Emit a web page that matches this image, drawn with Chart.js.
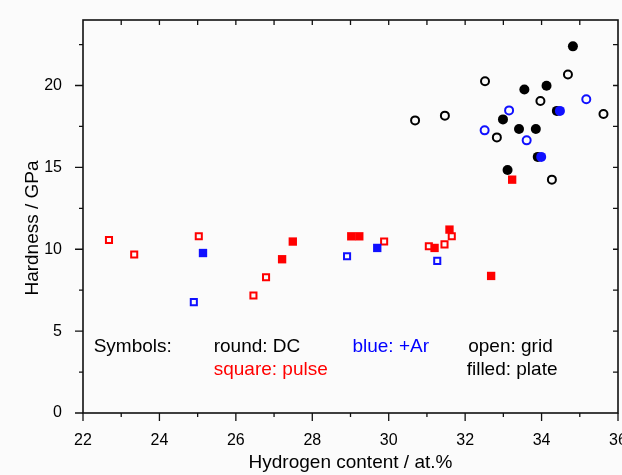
<!DOCTYPE html>
<html><head><meta charset="utf-8">
<script src="https://cdn.jsdelivr.net/npm/chart.js@4"></script>
<style>html,body{margin:0;padding:0;background:#fbfbfb;}canvas{display:block}</style>
</head><body>
<canvas id="c" width="622" height="475"></canvas>
<script>
// ---- data: [hydrogen content at.%, hardness GPa] ----
const dcGrid      = [[34.69,20.67],[32.52,20.26],[33.97,19.05],[35.62,18.26],[30.69,17.87],[31.47,18.16],[32.83,16.83],[34.27,14.25]];
const dcPlate     = [[34.82,22.39],[33.55,19.76],[34.13,19.98],[34.40,18.45],[32.99,17.93],[33.41,17.34],[33.85,17.34],[33.90,15.64],[33.11,14.84]];
const dcArGrid    = [[35.17,19.16],[33.15,18.48],[32.51,17.26],[33.61,16.65]];
const dcArPlate   = [[34.48,18.45],[33.99,15.64]];
const pulseGrid   = [[22.68,10.57],[23.34,9.68],[25.03,10.79],[26.46,7.18],[26.79,8.29],[29.88,10.47],[31.05,10.18],[31.46,10.30],[31.65,10.79]];
const pulsePlate  = [[27.21,9.39],[27.49,10.47],[29.02,10.79],[29.23,10.79],[31.20,10.08],[31.59,11.20],[32.68,8.37],[33.23,14.25]];
const pulseArGrid = [[24.90,6.77],[28.91,9.57],[31.27,9.29]];
const pulseArPlate= [[25.14,9.77],[29.70,10.08]];

const xTickLabels = [22,24,26,28,30,32,34,36];
const xMinorTicks = [23,25,27,29,31,33,35];
const yTickLabels = [0,5,10,15,20];
const yMinorTicks = [2.5,7.5,12.5,17.5,22.5];
const xTopTicks   = [23,24,25,26,27,28,29,30,31,32,33,34,35];
const yRightTicks = [2.5,5,7.5,10,12.5,15,17.5,20,22.5];

const xTitle = 'Hydrogen content / at.%';
const yTitle = 'Hardness / GPa';
// legend-like annotations: [text, x, y, colour]
const notes = [
  ['Symbols:', 22.28, 3.75, '#000000'],
  ['round: DC', 25.42, 3.75, '#000000'],
  ['blue: +Ar', 29.05, 3.75, '#0000ff'],
  ['open: grid', 32.08, 3.75, '#000000'],
  ['square: pulse', 25.42, 2.32, '#ff0000'],
  ['filled: plate', 32.04, 2.32, '#000000']
];

const BLACK='#000000', BLUE='#1010ff', RED='#ff0000', BG='#fbfbfb';
const FONT = '"Liberation Sans", Arial, sans-serif';
const pts = a => a.map(p => ({x:p[0], y:p[1]}));
function ds(label, data, color, style, open, order){
  const isRect = style === 'rect';
  const r = isRect ? (open ? 4.3 : 5.9) : (open ? 4 : 5);
  return {
    label, data: pts(data), order,
    pointStyle: style,
    pointRadius: r,
    pointHoverRadius: r,
    borderWidth: open ? 2 : 0,
    borderColor: color,
    backgroundColor: open ? BG : color,
    showLine: false
  };
}

const decor = {
  id: 'decor',
  afterDraw(chart){
    const {ctx, chartArea:a, scales:{x, y}} = chart;
    ctx.save();
    ctx.strokeStyle = '#111';
    ctx.lineWidth = 1.6;
    ctx.strokeRect(a.left, a.top, a.right - a.left, a.bottom - a.top);
    ctx.lineWidth = 1.3;
    ctx.beginPath();
    xTickLabels.forEach(v => { const px = x.getPixelForValue(v); ctx.moveTo(px, a.bottom); ctx.lineTo(px, a.bottom + 8); });
    xMinorTicks.forEach(v => { const px = x.getPixelForValue(v); ctx.moveTo(px, a.bottom); ctx.lineTo(px, a.bottom + 4); });
    yTickLabels.forEach(v => { const py = y.getPixelForValue(v); ctx.moveTo(a.left, py); ctx.lineTo(a.left - 8, py); });
    yMinorTicks.forEach(v => { const py = y.getPixelForValue(v); ctx.moveTo(a.left, py); ctx.lineTo(a.left - 4, py); });
    xTopTicks.forEach(v => { const px = x.getPixelForValue(v); ctx.moveTo(px, a.top); ctx.lineTo(px, a.top + 5); });
    yRightTicks.forEach(v => { const py = y.getPixelForValue(v); ctx.moveTo(a.right, py); ctx.lineTo(a.right - 5, py); });
    ctx.stroke();

    ctx.font = '19px ' + FONT;
    ctx.textBaseline = 'alphabetic';
    ctx.textAlign = 'left';
    notes.forEach(([t, vx, vy, c]) => {
      ctx.fillStyle = c;
      ctx.fillText(t, x.getPixelForValue(vx), y.getPixelForValue(vy));
    });

    ctx.fillStyle = '#000';
    ctx.textAlign = 'center';
    ctx.textBaseline = 'middle';
    ctx.translate(33, 228);
    ctx.rotate(-Math.PI/2);
    ctx.fillText(yTitle, 0, 0);
    ctx.restore();
  }
};

new Chart(document.getElementById('c'), {
  type: 'scatter',
  data: {
    datasets: [
      ds('DC grid', dcGrid, BLACK, 'circle', true, 8),
      ds('DC plate', dcPlate, BLACK, 'circle', false, 7),
      ds('DC +Ar grid', dcArGrid, BLUE, 'circle', true, 6),
      ds('DC +Ar plate', dcArPlate, BLUE, 'circle', false, 5),
      ds('pulse grid', pulseGrid, RED, 'rect', true, 4),
      ds('pulse plate', pulsePlate, RED, 'rect', false, 3),
      ds('pulse +Ar grid', pulseArGrid, BLUE, 'rect', true, 2),
      ds('pulse +Ar plate', pulseArPlate, BLUE, 'rect', false, 1)
    ]
  },
  options: {
    responsive: false,
    animation: false,
    events: [],
    layout: { autoPadding: false, padding: { top: 20, right: 4, left: 0, bottom: 0 } },
    plugins: { legend: { display: false }, tooltip: { enabled: false } },
    scales: {
      x: {
        type: 'linear', min: 22, max: 36,
        grid: { display: false }, border: { display: false },
        afterFit(s){ s.height = 62; s.paddingLeft = 0; s.paddingRight = 0; },
        afterBuildTicks(s){ s.ticks = xTickLabels.map(v => ({value: v})); },
        ticks: { padding: 10, color: '#000', font: { family: FONT, size: 16 } },
        title: { display: true, text: xTitle, color: '#000', padding: { top: 0, bottom: 1 },
                 font: { family: FONT, size: 19 } }
      },
      y: {
        type: 'linear', min: 0, max: 24,
        grid: { display: false }, border: { display: false },
        afterFit(s){ s.width = 83; s.paddingTop = 0; s.paddingBottom = 0; },
        afterBuildTicks(s){ s.ticks = yTickLabels.map(v => ({value: v})); },
        ticks: { padding: 13, color: '#000', font: { family: FONT, size: 16 } }
      }
    }
  },
  plugins: [decor]
});
</script>
</body></html>
